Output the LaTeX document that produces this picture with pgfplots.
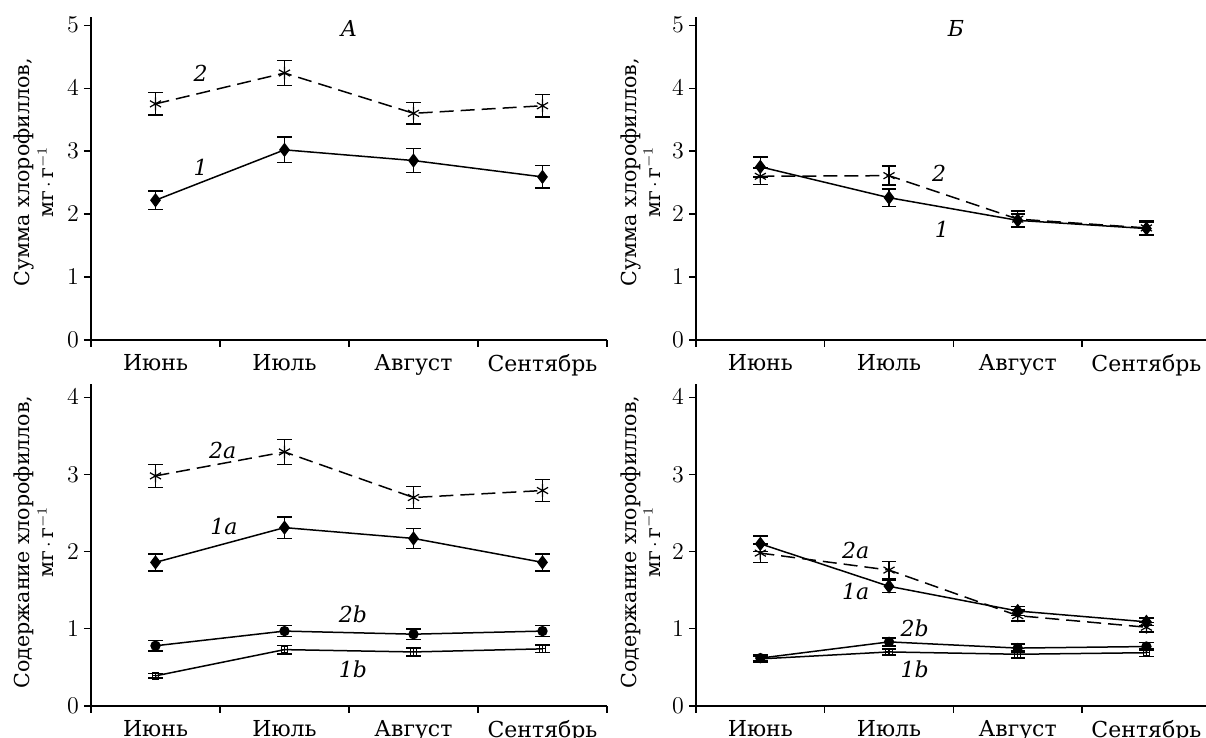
\documentclass[border=0pt]{standalone}
\usepackage{fontspec}
\setmainfont{DejaVu Serif}
\usepackage{pgfplots}
\pgfplotsset{compat=1.18}

\pgfdeclareplotmark{boxplus}{%
  \pgfpathrectangle{\pgfqpoint{-\pgfplotmarksize}{-\pgfplotmarksize}}{\pgfqpoint{2\pgfplotmarksize}{2\pgfplotmarksize}}%
  \pgfpathmoveto{\pgfqpoint{-\pgfplotmarksize}{0pt}}\pgfpathlineto{\pgfqpoint{\pgfplotmarksize}{0pt}}%
  \pgfpathmoveto{\pgfqpoint{0pt}{-\pgfplotmarksize}}\pgfpathlineto{\pgfqpoint{0pt}{\pgfplotmarksize}}%
  \pgfusepathqstroke}

\tikzset{lab/.style={font=\fontsize{11}{13}\selectfont\itshape}}

\pgfplotsset{
  panel/.style={
    scale only axis,
    axis x line*=bottom, axis y line*=left,
    axis line style={line width=0.6pt},
    tick style={line width=0.6pt, black},
    tick align=outside,
    xmin=0,
    xtick={0.5,1.5,2.5,3.5},
    xticklabels={Июнь,Июль,Август,Сентябрь},
    major x tick style={draw=none},
    minor xtick={0,1,2,3,4},
    minor tick length=3.5pt,
    major tick length=3.5pt,
    xticklabel style={yshift=0pt, font=\fontsize{11}{13}\selectfont},
    yticklabel style={font=\fontsize{11.5}{13}\selectfont, xshift=1pt},
    ymin=0,
    clip=false,
  },
  s1/.style={black, line width=0.75pt, mark=diamond*, mark size=3pt, mark options={solid, fill=black},
    error bars/.cd, y dir=both, y explicit, error bar style={line width=0.75pt,solid},
    error mark options={rotate=90, mark size=3.6pt, line width=0.75pt}},
  s2/.style={black, line width=0.75pt, dash pattern=on 7pt off 3.5pt, mark=asterisk, mark size=3.2pt, mark options={solid, line width=0.6pt},
    error bars/.cd, y dir=both, y explicit, error bar style={line width=0.75pt,solid},
    error mark options={rotate=90, mark size=3.6pt, line width=0.75pt,solid}},
  s2b/.style={black, line width=0.75pt, mark=*, mark size=2.2pt, mark options={fill=black},
    error bars/.cd, y dir=both, y explicit, error bar style={line width=0.75pt},
    error mark options={rotate=90, mark size=3.6pt, line width=0.75pt}},
  s1b/.style={black, line width=0.75pt, mark=boxplus, mark size=1.6pt, mark options={line width=0.5pt},
    error bars/.cd, y dir=both, y explicit, error bar style={line width=0.75pt},
    error mark options={rotate=90, mark size=3.6pt, line width=0.75pt}},
}

\begin{document}
\begin{tikzpicture}
\clip (0,0) rectangle (603pt,369pt);

% ---------- A (top left) ----------
\begin{axis}[panel, at={(45.5pt,199pt)}, anchor=south west,
  width=258pt, height=161.5pt, xmax=4, ymax=5.13, ytick={0,1,2,3,4,5}]
\addplot+[s1] coordinates {(0.5,2.22) +- (0,0.15) (1.5,3.02) +- (0,0.20) (2.5,2.85) +- (0,0.19) (3.5,2.59) +- (0,0.18)};
\addplot+[s2] coordinates {(0.5,3.75) +- (0,0.18) (1.5,4.24) +- (0,0.20) (2.5,3.60) +- (0,0.17) (3.5,3.72) +- (0,0.18)};
\node[lab] at (axis cs:2.0,4.95) {А};
\node[lab] at (axis cs:0.85,4.24) {2};
\node[lab] at (axis cs:0.85,2.75) {1};
\end{axis}

% ---------- Б (top right) ----------
\begin{axis}[panel, at={(348pt,199pt)}, anchor=south west,
  width=254.8pt, height=161.5pt, xmax=3.96, ymax=5.13, ytick={0,1,2,3,4,5}]
\addplot+[s1] coordinates {(0.5,2.75) +- (0,0.16) (1.5,2.26) +- (0,0.14) (2.5,1.90) +- (0,0.10) (3.5,1.77) +- (0,0.10)};
\addplot+[s2] coordinates {(0.5,2.60) +- (0,0.13) (1.5,2.61) +- (0,0.15) (2.5,1.92) +- (0,0.13) (3.5,1.78) +- (0,0.12)};
\node[lab] at (axis cs:2.02,4.95) {Б};
\node[lab] at (axis cs:1.89,2.65) {2};
\node[lab] at (axis cs:1.91,1.75) {1};
\end{axis}

% ---------- bottom left ----------
\begin{axis}[panel, at={(45.5pt,16pt)}, anchor=south west,
  width=258pt, height=161pt, xmax=4, ymax=4.17, ytick={0,1,2,3,4}]
\addplot+[s2] coordinates {(0.5,2.98) +- (0,0.15) (1.5,3.29) +- (0,0.16) (2.5,2.70) +- (0,0.14) (3.5,2.79) +- (0,0.14)};
\addplot+[s1] coordinates {(0.5,1.86) +- (0,0.11) (1.5,2.31) +- (0,0.14) (2.5,2.17) +- (0,0.13) (3.5,1.86) +- (0,0.11)};
\addplot+[s2b] coordinates {(0.5,0.78) +- (0,0.065) (1.5,0.97) +- (0,0.07) (2.5,0.93) +- (0,0.07) (3.5,0.97) +- (0,0.07)};
\addplot+[s1b] coordinates {(0.5,0.39) +- (0,0.03) (1.5,0.73) +- (0,0.055) (2.5,0.70) +- (0,0.05) (3.5,0.74) +- (0,0.05)};
\node[lab] at (axis cs:1.02,3.31) {2a};
\node[lab] at (axis cs:1.03,2.32) {1a};
\node[lab] at (axis cs:2.03,1.19) {2b};
\node[lab] at (axis cs:2.03,0.47) {1b};
\end{axis}

% ---------- bottom right ----------
\begin{axis}[panel, at={(348pt,16pt)}, anchor=south west,
  width=254.8pt, height=161pt, xmax=3.96, ymax=4.17, ytick={0,1,2,3,4}]
\addplot+[s1] coordinates {(0.5,2.10) +- (0,0.10) (1.5,1.55) +- (0,0.08) (2.5,1.23) +- (0,0.06) (3.5,1.09) +- (0,0.05)};
\addplot+[s2] coordinates {(0.5,1.98) +- (0,0.12) (1.5,1.76) +- (0,0.11) (2.5,1.17) +- (0,0.07) (3.5,1.02) +- (0,0.06)};
\addplot+[s2b] coordinates {(0.5,0.62) +- (0,0.04) (1.5,0.83) +- (0,0.05) (2.5,0.75) +- (0,0.05) (3.5,0.77) +- (0,0.05)};
\addplot+[s1b] coordinates {(0.5,0.61) +- (0,0.04) (1.5,0.70) +- (0,0.04) (2.5,0.67) +- (0,0.05) (3.5,0.69) +- (0,0.05)};
\node[lab] at (axis cs:1.24,2.02) {2a};
\node[lab] at (axis cs:1.24,1.48) {1a};
\node[lab] at (axis cs:1.70,1.00) {2b};
\node[lab] at (axis cs:1.70,0.47) {1b};
\end{axis}

% ---------- y labels ----------
\begin{scope}[every node/.style={rotate=90, anchor=base, font=\fontsize{10.3}{12}\selectfont, inner sep=0pt}]
\node at (15pt,283pt) {Сумма хлорофиллов,};
\node at (27pt,278pt) {мг\,$\cdot$\,г$^{-1}$};
\node at (318pt,283pt) {Сумма хлорофиллов,};
\node at (330pt,278pt) {мг\,$\cdot$\,г$^{-1}$};
\node at (15pt,98pt) {Содержание хлорофиллов,};
\node at (27pt,98pt) {мг\,$\cdot$\,г$^{-1}$};
\node at (318pt,98pt) {Содержание хлорофиллов,};
\node at (330pt,98pt) {мг\,$\cdot$\,г$^{-1}$};
\end{scope}
\end{tikzpicture}
\end{document}
